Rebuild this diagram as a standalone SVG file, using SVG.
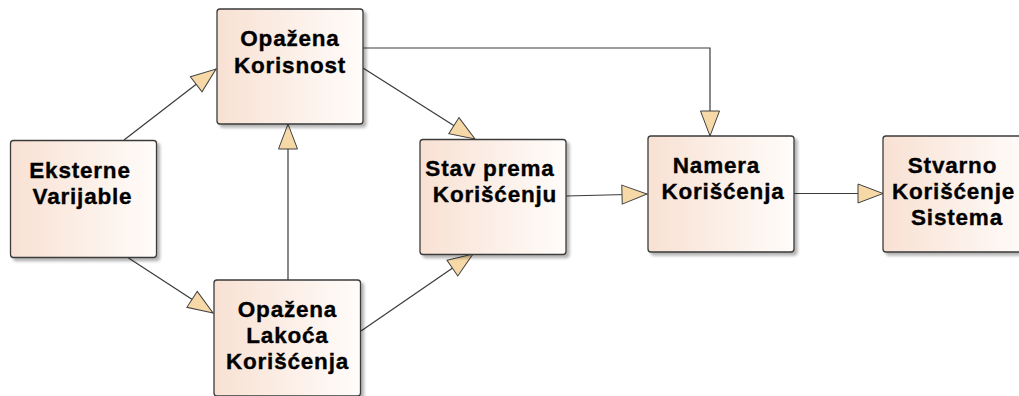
<svg xmlns="http://www.w3.org/2000/svg" width="1019" height="396" viewBox="0 0 1019 396">
  <defs>
    <linearGradient id="fillGrad" x1="0" y1="0" x2="1" y2="0">
      <stop offset="0" stop-color="#f8e1d3"/>
      <stop offset="1" stop-color="#fffcfa"/>
    </linearGradient>
    <filter id="shadow" x="-10%" y="-10%" width="130%" height="130%">
      <feGaussianBlur in="SourceAlpha" stdDeviation="1.5"/>
      <feOffset dx="3" dy="3" result="b"/>
      <feComponentTransfer><feFuncA type="linear" slope="0.3"/></feComponentTransfer>
      <feMerge><feMergeNode/><feMergeNode in="SourceGraphic"/></feMerge>
    </filter>
    <marker id="arrow" markerUnits="userSpaceOnUse" markerWidth="28" markerHeight="22" refX="26" refY="10.5" orient="auto">
      <path d="M1,1 L26,10.5 L1,20 Z" fill="#f7d9a8" stroke="#404040" stroke-width="1" stroke-linejoin="miter"/>
    </marker>
    <style>
      .box { fill: url(#fillGrad); stroke: #3a3a3a; stroke-width: 1.3; filter: url(#shadow); }
      .lbl { font-family: "Liberation Sans", Arial, sans-serif; font-weight: bold; font-size: 22.5px; letter-spacing: 0.8px; fill: #000; stroke: #000; stroke-width: 0.35px; text-anchor: middle; }
      .conn { fill: none; stroke: #3a3a3a; stroke-width: 1.2; marker-end: url(#arrow); }
    </style>
  </defs>
  <rect width="1019" height="396" fill="#ffffff"/>

  <g id="connectors">
    <path class="conn" d="M124,140 L216,69"/>
    <path class="conn" d="M127,257 L213,313"/>
    <path class="conn" d="M288,280 L288,124"/>
    <path class="conn" d="M363,68 L475,139"/>
    <path class="conn" d="M363,48 H710 V136"/>
    <path class="conn" d="M361,331 L473,254"/>
    <path class="conn" d="M566,196 L647,194"/>
    <path class="conn" d="M794,193.5 L883,193.5"/>
  </g>

  <g id="node-opazena-korisnost">
    <rect class="box" x="217" y="9" width="146" height="115" rx="3"/>
    <text class="lbl" x="290" y="45.5">Opažena</text>
    <text class="lbl" x="290" y="72.5">Korisnost</text>
  </g>

  <g id="node-eksterne-varijable">
    <rect class="box" x="10.5" y="140.5" width="146" height="117" rx="3"/>
    <text class="lbl" x="80" y="178">Eksterne</text>
    <text class="lbl" x="82.5" y="204">Varijable</text>
  </g>

  <g id="node-opazena-lakoca">
    <rect class="box" x="214" y="280" width="146.5" height="116" rx="3"/>
    <text class="lbl" x="287.5" y="316.5">Opažena</text>
    <text class="lbl" x="287.5" y="343">Lakoća</text>
    <text class="lbl" x="287.5" y="368.5">Korišćenja</text>
  </g>

  <g id="node-stav">
    <rect class="box" x="420" y="139.5" width="146" height="115" rx="3"/>
    <text class="lbl" x="490" y="175.5">Stav prema</text>
    <text class="lbl" x="495" y="201.5">Korišćenju</text>
  </g>

  <g id="node-namera">
    <rect class="box" x="648" y="136" width="146" height="116" rx="3"/>
    <text class="lbl" x="716.5" y="172.5">Namera</text>
    <text class="lbl" x="723" y="199">Korišćenja</text>
  </g>

  <g id="node-stvarno">
    <rect class="box" x="883" y="136" width="146" height="116" rx="3"/>
    <text class="lbl" x="952.5" y="172.5">Stvarno</text>
    <text class="lbl" x="953.5" y="199">Korišćenje</text>
    <text class="lbl" x="957" y="225">Sistema</text>
  </g>
</svg>
